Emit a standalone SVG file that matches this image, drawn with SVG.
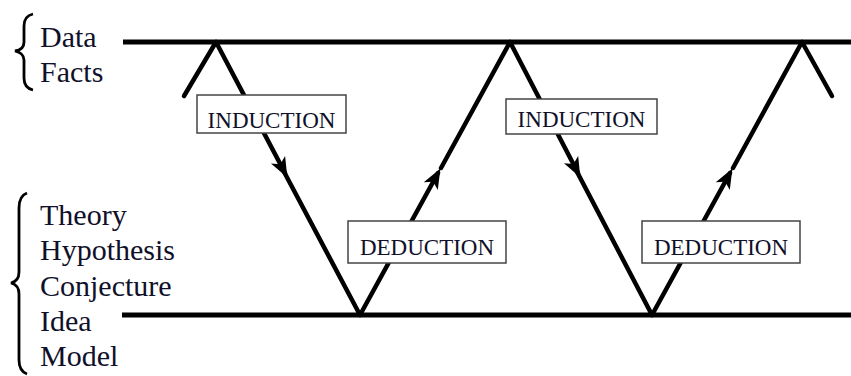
<svg xmlns="http://www.w3.org/2000/svg" width="851" height="376" viewBox="0 0 851 376">
<style>
.lbl{font-family:"Liberation Serif","Times New Roman",serif;font-size:30px;fill:#10102a}
.box{fill:#fff;stroke:#444;stroke-width:1.5}
.bt{font-family:"Liberation Serif","Times New Roman",serif;font-size:23px;fill:#10102a}
.leg{stroke:#000;stroke-width:4.5;fill:none;stroke-linecap:round}
.axis{stroke:#000;stroke-width:5}
.brace{fill:none;stroke:#000;stroke-width:2.8}
</style>
<defs>
<marker id="ah" markerWidth="22" markerHeight="18" refX="15" refY="9" orient="auto" markerUnits="userSpaceOnUse">
<path d="M0,1 L20,9 L0,17 L5,9 Z" fill="#000"/>
</marker>
</defs>
<g id="levels">
<line class="axis" x1="123" y1="42" x2="851" y2="42"/>
<line class="axis" x1="122" y1="315" x2="851" y2="315"/>
</g>
<g id="connectors">
<line class="leg" x1="184" y1="96" x2="216" y2="42"/>
<line class="leg" x1="216" y1="42" x2="285" y2="173" marker-end="url(#ah)"/>
<line class="leg" x1="282" y1="168" x2="360" y2="315"/>
<line class="leg" x1="360" y1="315" x2="438" y2="173" marker-end="url(#ah)"/>
<line class="leg" x1="441" y1="168" x2="510" y2="42"/>
<line class="leg" x1="510" y1="42" x2="578" y2="173" marker-end="url(#ah)"/>
<line class="leg" x1="575" y1="168" x2="652" y2="315"/>
<line class="leg" x1="652" y1="315" x2="730" y2="173" marker-end="url(#ah)"/>
<line class="leg" x1="733" y1="168" x2="802" y2="42"/>
<line class="leg" x1="802" y1="42" x2="832" y2="96"/>
</g>
<g id="data-facts">
<path class="brace" d="M33,14 Q24,16 24,26 L24,42 Q24,50 15,51 Q24,53 24,60 L24,78 Q24,88 33,90"/>
<text class="lbl" x="40" y="47">Data</text>
<text class="lbl" x="40" y="82">Facts</text>
</g>
<g id="theory">
<path class="brace" d="M27,193 Q19,196 19,208 L19,272 Q19,281 11,283 Q19,285 19,294 L19,360 Q19,371 27,374"/>
<text class="lbl" x="40" y="225">Theory</text>
<text class="lbl" x="40" y="260">Hypothesis</text>
<text class="lbl" x="40" y="296">Conjecture</text>
<text class="lbl" x="40" y="331">Idea</text>
<text class="lbl" x="40" y="366">Model</text>
</g>
<g id="induction1">
<rect class="box" x="197" y="95" width="149" height="38"/>
<text class="bt" x="271.5" y="128" text-anchor="middle">INDUCTION</text>
</g>
<g id="deduction1">
<rect class="box" x="348" y="221" width="158" height="42"/>
<text class="bt" x="427" y="255" text-anchor="middle">DEDUCTION</text>
</g>
<g id="induction2">
<rect class="box" x="506" y="99" width="151" height="35"/>
<text class="bt" x="581.5" y="127" text-anchor="middle">INDUCTION</text>
</g>
<g id="deduction2">
<rect class="box" x="642" y="221" width="158" height="42"/>
<text class="bt" x="721" y="255" text-anchor="middle">DEDUCTION</text>
</g>
</svg>
